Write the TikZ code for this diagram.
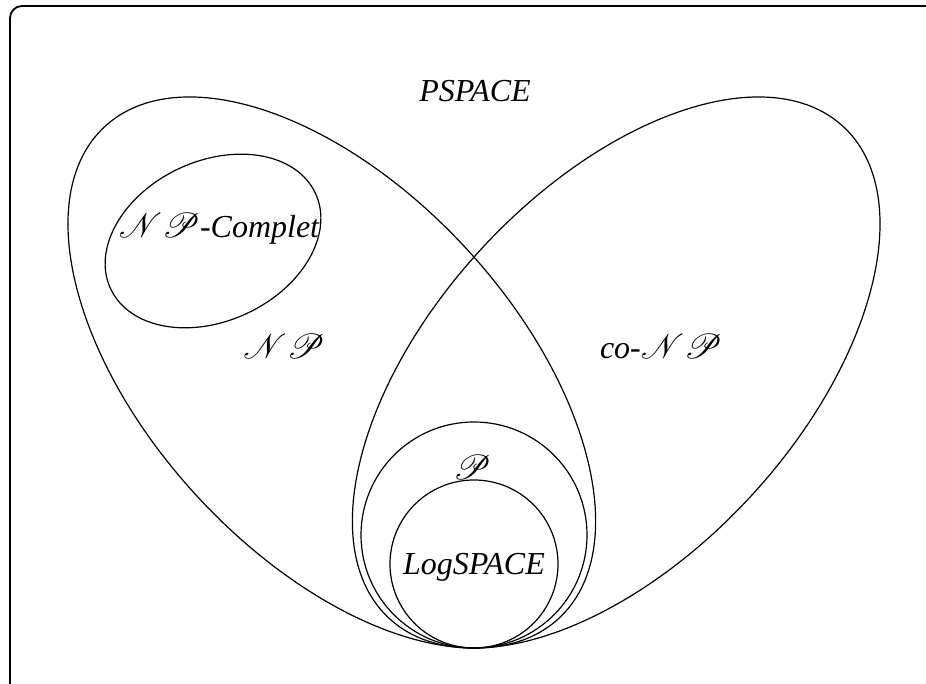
\documentclass[tikz,border=0pt]{standalone}
\usepackage{fontspec}
\setmainfont{Liberation Serif}
\usepackage{mathrsfs}
\usetikzlibrary{shapes.geometric, positioning}

\begin{document}
\begin{tikzpicture}[x=0.5pt, y=0.5pt, line width=0.6pt,
        classe/.style={draw, ellipse, inner sep=0pt},
        rond/.style={draw, circle, inner sep=0pt},
        etiq/.style={font=\fontsize{16}{19}\selectfont\itshape, inner sep=0pt}
    ]
    \newcommand{\NP}{$\mathscr{N}\mathscr{P}$}
    \clip (0,0) rectangle (926,684);
    % cadre
    \draw[line width=0.9pt, rounded corners=6pt] (10,678) rectangle (945,-12);

    % classes
    \node[classe, minimum width=334.7pt, minimum height=182.9pt, rotate=-47.3] (np) at (331.8,311.5) {};
    \node[classe, minimum width=334.7pt, minimum height=182.9pt, rotate=47.3] (conp) at (616.2,311.5) {};
    \node[classe, minimum width=113pt, minimum height=80pt, rotate=25] (npc) at (213,443) {};
    \node[rond, minimum size=113pt] (p) at (474,149) {};
    \node[rond, minimum size=84pt] (log) at (474,120) {};

    % etiquettes
    \node[etiq] (pspace) at (475,593) {PSPACE};
    \node[etiq] (lnp) at (284,338) {\NP};
    \node[etiq] (lconp) at (661,337) {co-\NP};
    \node[etiq] (lnpc) at (219,455) {\NP-Complet};
    \node[etiq] (lp) at (472,217) {$\mathscr{P}$};
    \node[etiq] (llog) at (474,117) {LogSPACE};
\end{tikzpicture}
\end{document}
